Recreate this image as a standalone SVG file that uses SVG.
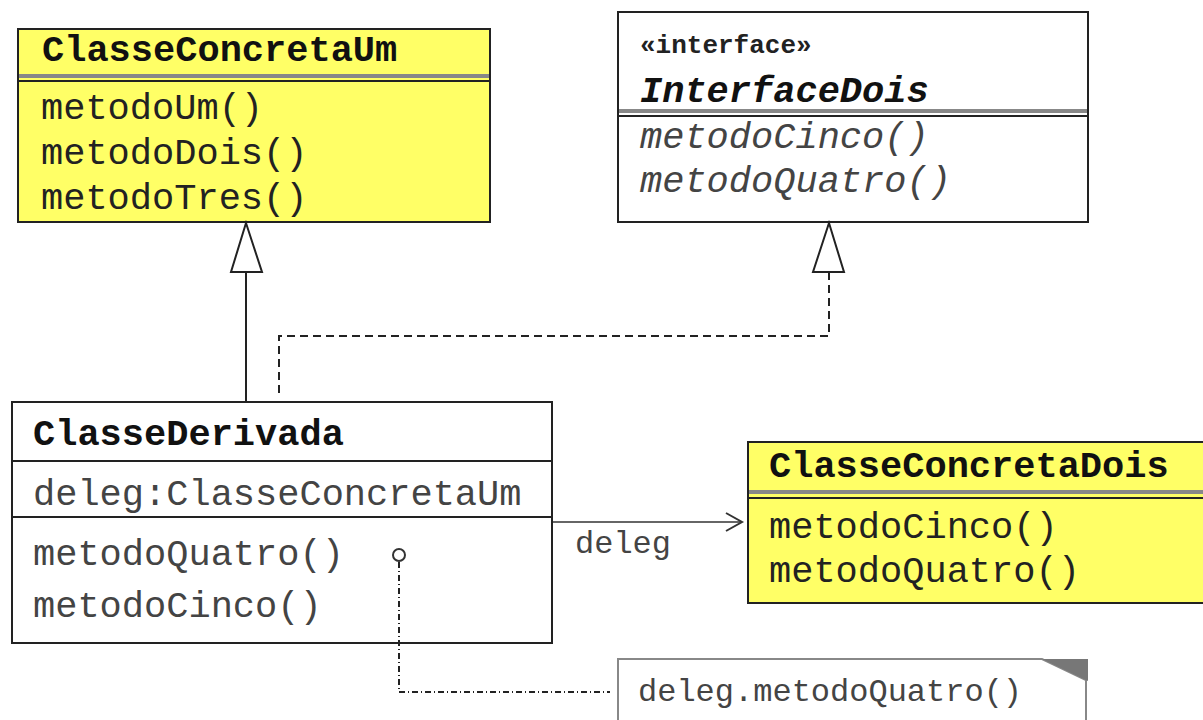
<svg xmlns="http://www.w3.org/2000/svg" width="1203" height="720" viewBox="0 0 1203 720">
<style>
.box{stroke:#222;stroke-width:2}
.yel{fill:#ffff66}
.wht{fill:#fff}
.sep{stroke:#222;stroke-width:2}
.sepg{stroke:#888;stroke-width:4}
.t{font-family:"Liberation Mono","Courier New",monospace;font-size:37px;fill:#222}
.h{font-weight:bold;fill:#111}
.g{fill:#444}
.it{font-style:italic}
.sm{font-size:32px}
.st{font-size:26px;font-weight:bold}
.line{fill:none;stroke:#222;stroke-width:2}
.dash{fill:none;stroke:#222;stroke-width:2;stroke-dasharray:8 5}
.dd{fill:none;stroke:#222;stroke-width:2;stroke-dasharray:6 3 1 3}
.tri{fill:#fff;stroke:#222;stroke-width:2}
</style>
<g id="ClasseConcretaUm">
<rect class="box yel" x="18" y="29" width="472" height="193"/>
<line class="sepg" x1="19" y1="76" x2="489" y2="76"/>
<line class="sep" x1="19" y1="81" x2="489" y2="81"/>
<text class="t h" x="42" y="61">ClasseConcretaUm</text>
<text class="t" x="41" y="119">metodoUm()</text>
<text class="t" x="41" y="164">metodoDois()</text>
<text class="t" x="41" y="209">metodoTres()</text>
</g>
<g id="InterfaceDois">
<rect class="box wht" x="618" y="12" width="470" height="210"/>
<line class="sepg" x1="619" y1="111" x2="1087" y2="111"/>
<line class="sep" x1="619" y1="116" x2="1087" y2="116"/>
<text class="t st" x="640" y="53">«interface»</text>
<text class="t h it" x="640" y="102">InterfaceDois</text>
<text class="t it g" x="640" y="148">metodoCinco()</text>
<text class="t it g" x="640" y="192">metodoQuatro()</text>
</g>
<g id="ClasseDerivada">
<rect class="box wht" x="12" y="402" width="540" height="241"/>
<line class="sep" x1="12" y1="461" x2="552" y2="461"/>
<line class="sep" x1="12" y1="517" x2="552" y2="517"/>
<text class="t h" x="33" y="445">ClasseDerivada</text>
<text class="t g" x="33" y="505">deleg:ClasseConcretaUm</text>
<text class="t g" x="33" y="565">metodoQuatro()</text>
<text class="t g" x="33" y="617">metodoCinco()</text>
</g>
<g id="ClasseConcretaDois">
<rect class="box yel" x="748" y="442" width="470" height="161"/>
<line class="sepg" x1="749" y1="492" x2="1203" y2="492"/>
<line class="sep" x1="749" y1="498" x2="1203" y2="498"/>
<text class="t h" x="769" y="477">ClasseConcretaDois</text>
<text class="t" x="769" y="538">metodoCinco()</text>
<text class="t" x="769" y="582">metodoQuatro()</text>
</g>
<g id="Nota">
<path d="M618,730 V659 H1042 L1086,680 V730" fill="#fff" stroke="#888" stroke-width="2"/>
<polygon points="1042,659 1088,659 1088,681" fill="#777"/>
<text class="t sm g" x="638" y="701">deleg.metodoQuatro()</text>
</g>
<g id="connectors">
<line class="line" x1="246" y1="402" x2="246" y2="272"/>
<polygon class="tri" points="246,223 231,272 262,272"/>
<polyline class="dash" points="279,393 279,336 829,336 829,272"/>
<polygon class="tri" points="829,223 813,272 844,272"/>
<line x1="553" y1="522" x2="742" y2="522" stroke="#666" stroke-width="2"/>
<polyline points="726,513 742,522 726,531" fill="none" stroke="#333" stroke-width="2"/>
<text class="t sm g" x="575" y="553">deleg</text>
<circle cx="399" cy="555" r="6" fill="#fff" stroke="#333" stroke-width="2"/>
<polyline class="dd" points="399,562 399,692 610,692"/>
</g>
</svg>
